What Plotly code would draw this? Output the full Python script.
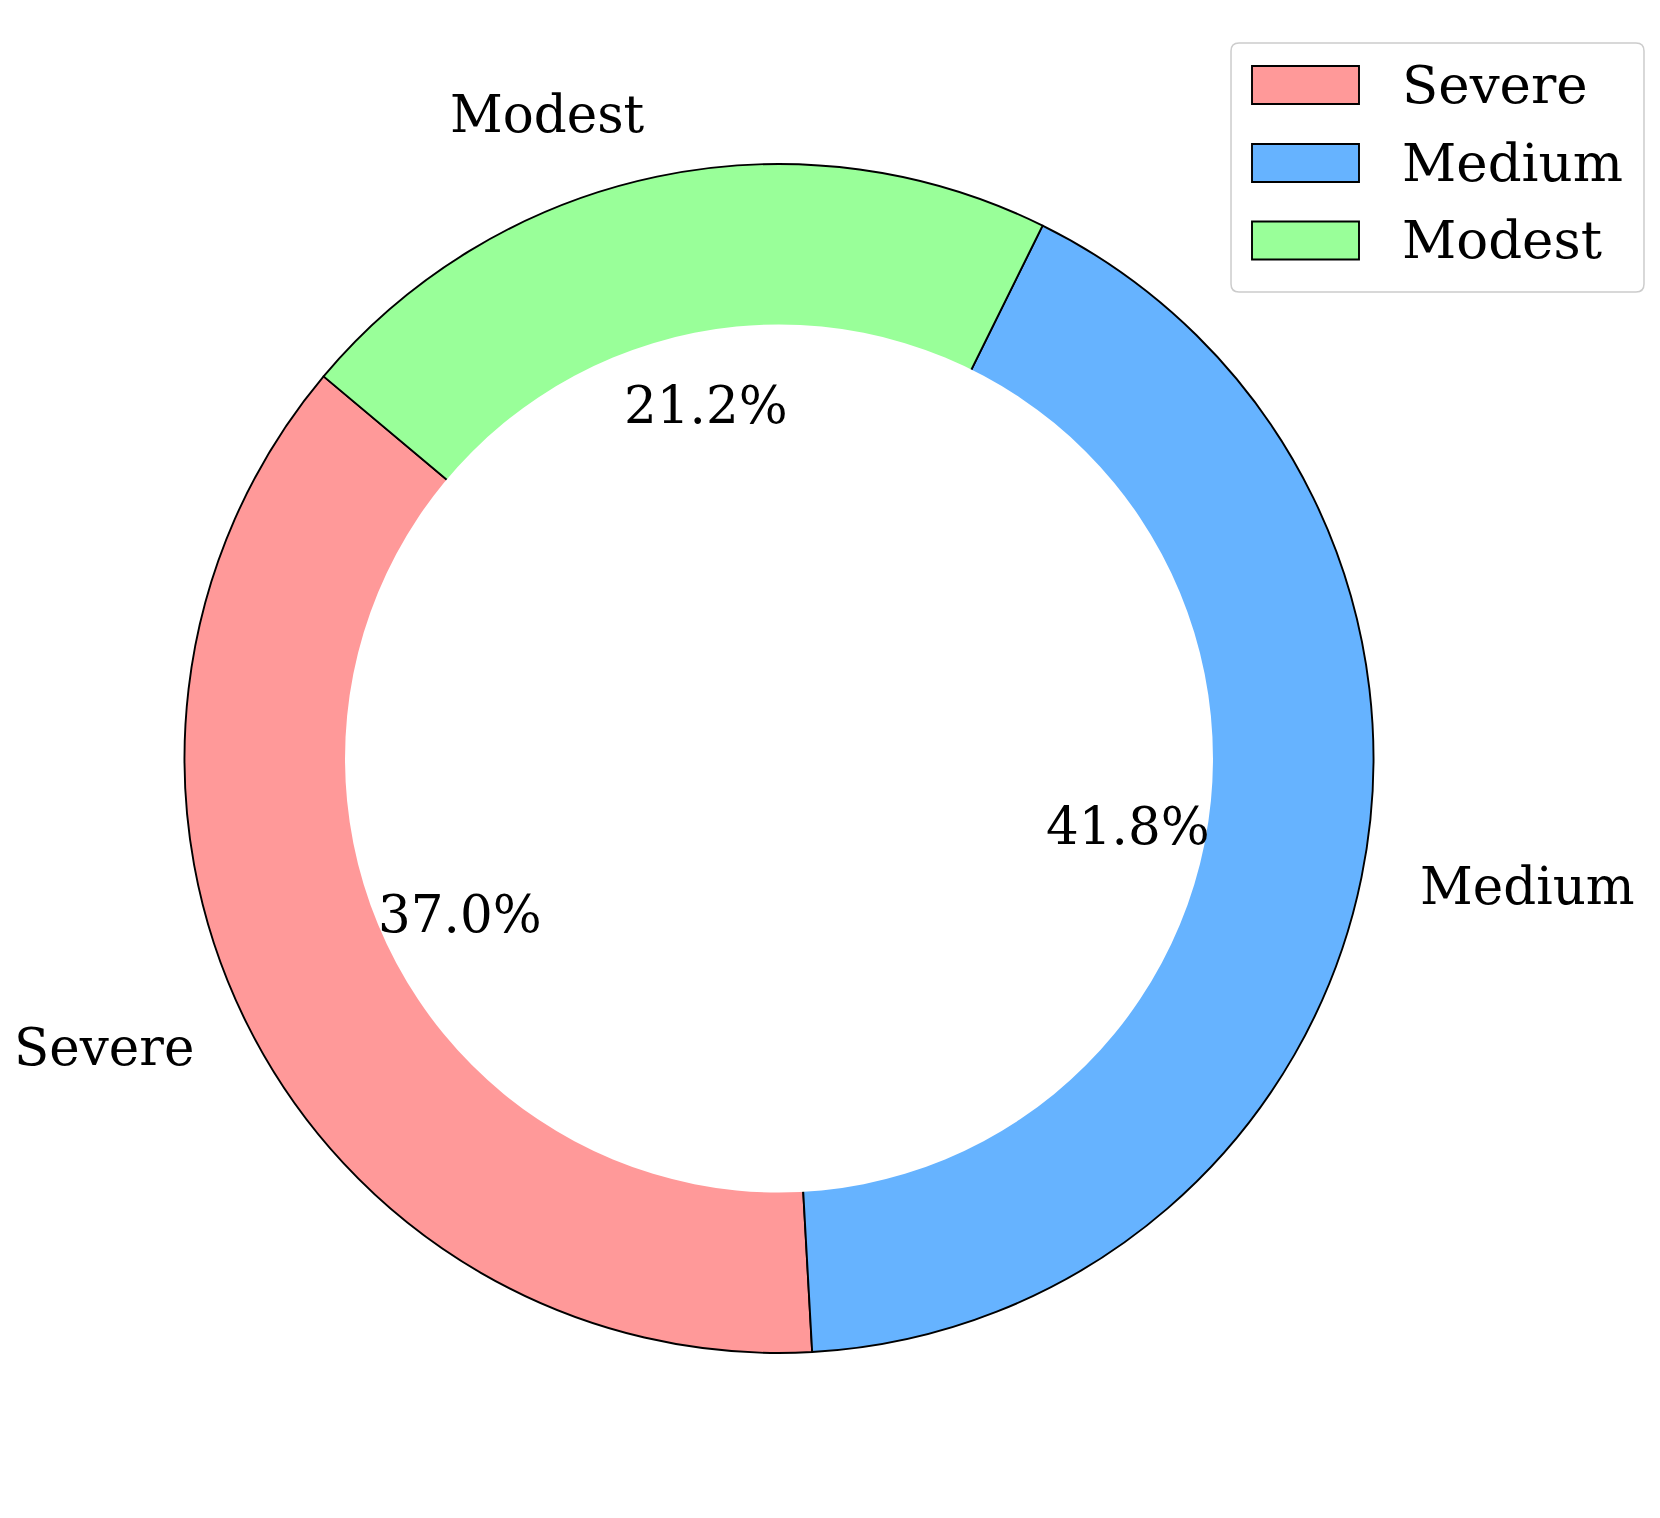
import math
import plotly.graph_objects as go

# data
labels = ['Severe', 'Medium', 'Modest']
values = [37.0, 41.8, 21.2]
colors = ['#ff9999', '#66b3ff', '#99ff99']

W, H = 1660, 1518
OFF = 8  # page body margin
FONT = 'DejaVu Serif'

# pie placement in page pixels (from top-left)
cx, cy, R = 779, 758.5, 594.5
hole_frac = 0.73
start_angle = 140  # matplotlib style, counterclockwise from 3 o'clock


def to_paper(x, y):
    return (x - OFF) / W, 1 - (y - OFF) / H


total = sum(values)
dom_x = [(cx - R - OFF) / W, (cx + R - OFF) / W]
dom_y = [1 - (cy + R - OFF) / H, 1 - (cy - R - OFF) / H]

# plotly counterclockwise: first slice ends at `rotation` (clockwise from 12 o'clock)
rot = (90 - start_angle - values[0] / total * 360) % 360

fig = go.Figure()
fig.add_trace(go.Pie(
    labels=labels, values=values, sort=False,
    direction='counterclockwise', rotation=rot,
    marker=dict(colors=colors, line=dict(color='black', width=1.9)),
    textinfo='none', hoverinfo='label+percent',
    domain=dict(x=dom_x, y=dom_y), showlegend=False,
))

shapes = []
annotations = []

# white centre circle (covers inner part of the wedges)
r_in = R * hole_frac
x0, y1 = to_paper(cx - r_in, cy - r_in)
x1, y0 = to_paper(cx + r_in, cy + r_in)
shapes.append(dict(type='circle', xref='paper', yref='paper', x0=x0, x1=x1, y0=y0, y1=y1,
                   fillcolor='white', line=dict(width=0), layer='above'))

# labels and percentages
theta = start_angle
for lab, v in zip(labels, values):
    span = v / total * 360
    mid = math.radians(theta + span / 2)
    theta += span
    right_side = math.cos(mid) > 0
    # outer label
    lx = cx + 1.1 * R * math.cos(mid)
    ly = cy - 1.1 * R * math.sin(mid)
    px, py = to_paper(lx, ly)
    annotations.append(dict(x=px, y=py, xref='paper', yref='paper', text=lab, showarrow=False,
                            xanchor='left' if right_side else 'right', yanchor='middle',
                            xshift=-2 if right_side else 2, yshift=4,
                            font=dict(family=FONT, size=51.5, color='black')))
    # percentage
    tx = cx + 0.6 * R * math.cos(mid)
    ty = cy - 0.6 * R * math.sin(mid)
    px, py = to_paper(tx, ty)
    annotations.append(dict(x=px, y=py, xref='paper', yref='paper', text='%1.1f%%' % (v / total * 100),
                            showarrow=False, xanchor='center', yanchor='middle', yshift=4,
                            font=dict(family=FONT, size=51.5, color='black')))

# legend box drawn by hand (matplotlib-like)
bx0, by0, bx1, by1, rad = 1231, 43, 1644, 292, 8


def P(x, y):
    px, py = to_paper(x, y)
    return '%.5f,%.5f' % (px, py)


path = ('M ' + P(bx0 + rad, by0) + ' L ' + P(bx1 - rad, by0) + ' Q ' + P(bx1, by0) + ' ' + P(bx1, by0 + rad) +
        ' L ' + P(bx1, by1 - rad) + ' Q ' + P(bx1, by1) + ' ' + P(bx1 - rad, by1) +
        ' L ' + P(bx0 + rad, by1) + ' Q ' + P(bx0, by1) + ' ' + P(bx0, by1 - rad) +
        ' L ' + P(bx0, by0 + rad) + ' Q ' + P(bx0, by0) + ' ' + P(bx0 + rad, by0) + ' Z')
shapes.append(dict(type='path', xref='paper', yref='paper', path=path,
                   fillcolor='rgba(255,255,255,0.8)', line=dict(color='#cccccc', width=1.5)))

row_y = [85, 163, 240.5]
for lab, col, ry in zip(labels, colors, row_y):
    x0, y1 = to_paper(1252, ry - 19)
    x1, y0 = to_paper(1359, ry + 19)
    shapes.append(dict(type='rect', xref='paper', yref='paper', x0=x0, x1=x1, y0=y0, y1=y1,
                       fillcolor=col, line=dict(color='black', width=1.9)))
    px, py = to_paper(1400, ry)
    annotations.append(dict(x=px, y=py, xref='paper', yref='paper', text=lab, showarrow=False,
                            xanchor='left', yanchor='middle', yshift=1,
                            font=dict(family=FONT, size=53, color='black')))

fig.update_layout(
    width=W, height=H,
    margin=dict(l=0, r=0, t=0, b=0),
    paper_bgcolor='white', plot_bgcolor='white',
    shapes=shapes, annotations=annotations,
)

fig.write_html("out.html")
